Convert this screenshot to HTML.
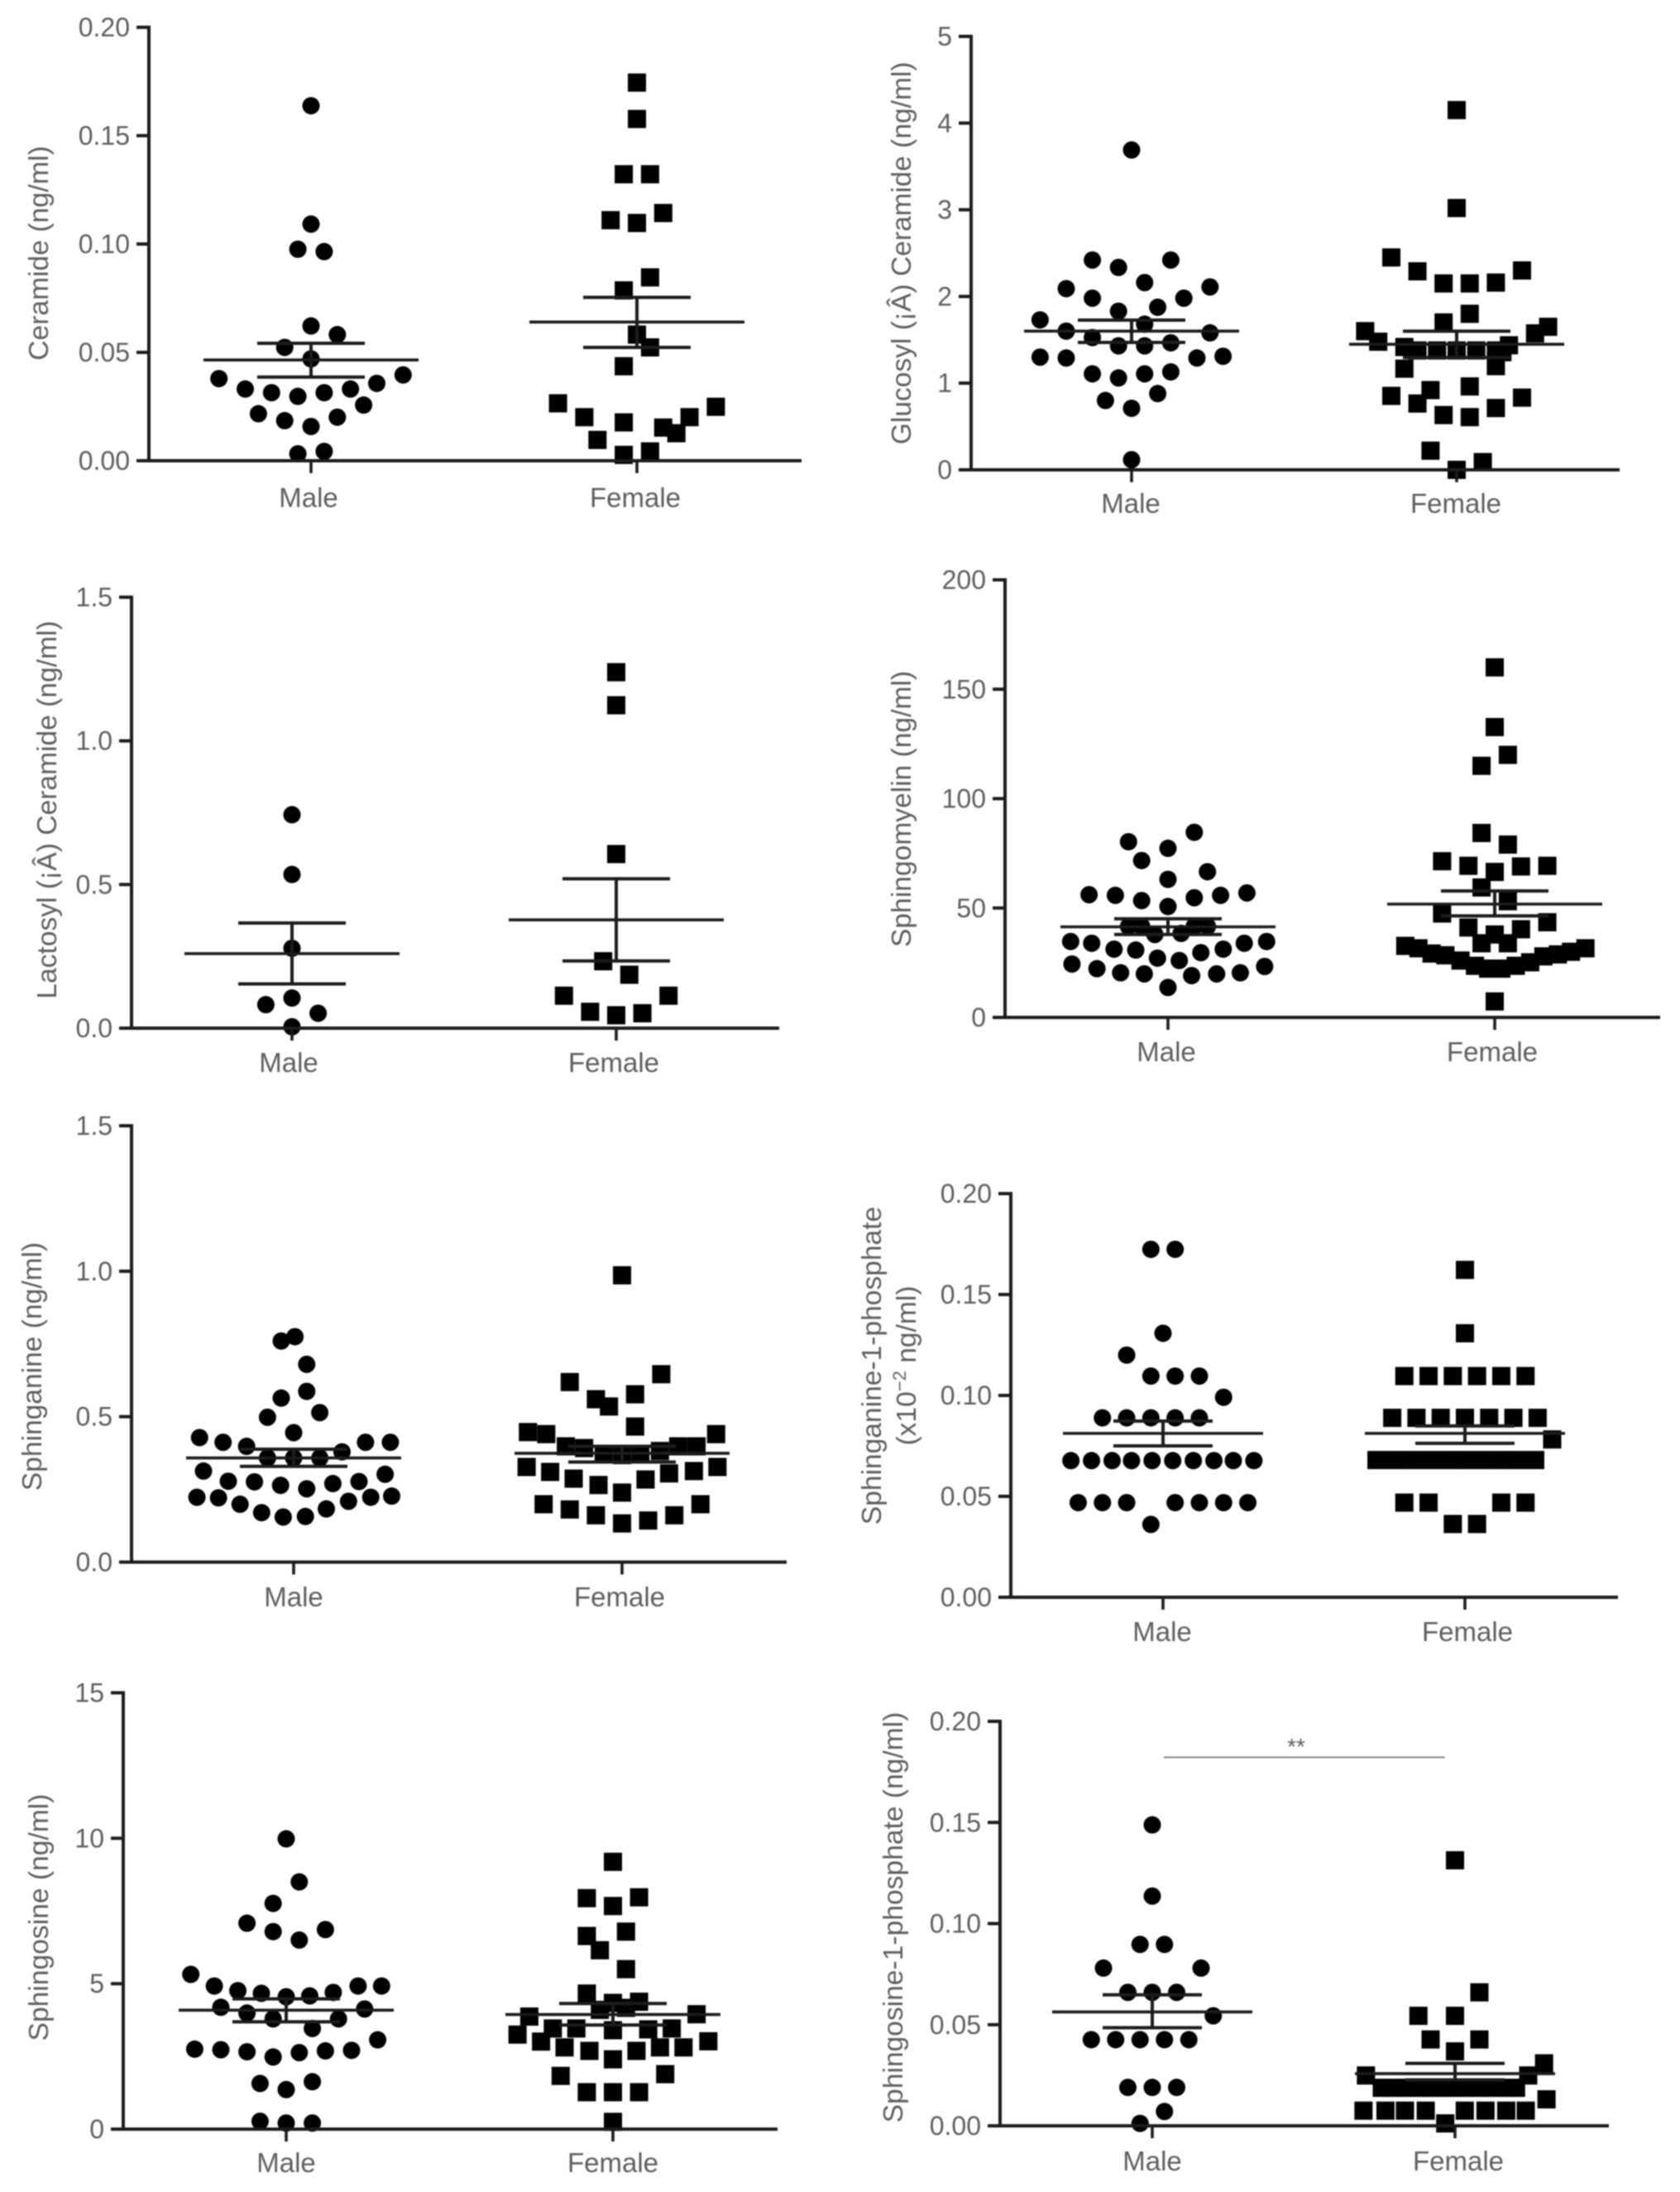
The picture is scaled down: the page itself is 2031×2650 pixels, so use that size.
<!DOCTYPE html>
<html lang="en">
<head>
<meta charset="utf-8">
<title>Sphingolipid levels by sex</title>
<style>
html,body{margin:0;padding:0;background:#fff;}
svg{display:block;filter:blur(0.7px);}
text{font-family:"Liberation Sans",sans-serif;fill:#5e5e5e;}
</style>
</head>
<body>
<svg id="figure" xmlns="http://www.w3.org/2000/svg" width="2031" height="2650" viewBox="0 0 2031 2650"></svg>
<script>
/* ---------- Ceramide ---------- */
const ceramideTicks = [0, 0.05, 0.10, 0.15, 0.20];
const ceramideMale = [.1638,.1092,.0976,.0965,.0622,.0582,.0523,.0470,.0396,.0379,.0357,.0331,.0331,.0314,.0314,.0297,.0257,.0217,.0201,.0185,.0158,.0032,.0043];
const ceramideMaleSlots = [0,0,-1,1,0,2,-2,0,7,-7,5,-5,3,-3,1,-1,4,-4,2,-2,0,-1,1];
const ceramideMaleStats = [.0465,.0542,.0386];
const ceramideFemale = [.1745,.1577,.1322,.1322,.1143,.1110,.1097,.0846,.0786,.0582,.0523,.0436,.0265,.0249,.0201,.0201,.0177,.0153,.0127,.0096,.0043,.0027];
const ceramideFemaleSlots = [0,0,-1,1,2,-2,0,1,-1,0,1,-1,-6,6,-4,4,-1,2,3,-3,1,-1];
const ceramideFemaleStats = [.0640,.0754,.0523];

/* ---------- Glucosyl ceramide ---------- */
const glucosylTicks = [0, 1, 2, 3, 4, 5];
const glucosylMale = [3.69,2.42,2.42,2.335,2.16,2.09,2.11,1.98,1.98,1.876,1.83,1.73,1.68,1.60,1.58,1.526,1.465,1.43,1.43,1.30,1.29,1.29,1.31,1.107,1.13,1.107,1.06,.88,.80,.71,.117];
const glucosylMaleSlots = [0,-3,3,-1,1,-5,6,-3,4,2,-1,-7,1,-5,6,-3,3,-1,1,-7,-5,5,7,-3,3,1,-1,2,-2,0,0];
const glucosylMaleStats = [1.60,1.727,1.47];
const glucosylFemale = [4.15,3.02,2.45,2.29,2.30,2.15,2.15,2.16,1.80,1.70,1.65,1.60,1.574,1.478,1.437,1.417,1.377,1.377,1.377,1.377,1.377,1.357,1.167,1.196,.962,.92,.853,.833,.765,.713,.632,.608,.221,.089,0];
const glucosylFemaleSlots = [0,0,-5,-3,5,-1,1,3,1,-1,7,-7,6,-6,4,-4,-3,-1.5,0,1.5,3,3.5,-4,3,1,-2,-5,5,-3,3,-1,1,-2,2,0];
const glucosylFemaleStats = [1.449,1.60,1.296];

/* ---------- Lactosyl ceramide ---------- */
const lactosylTicks = [0, 0.5, 1.0, 1.5];
const lactosylMale = [.743,.535,.278,.105,.082,.052,.005];
const lactosylMaleSlots = [0,0,0,0,-2,2,0];
const lactosylMaleStats = [.2595,.366,.154];
const lactosylFemale = [1.239,1.124,.606,.233,.186,.113,.113,.057,.052,.045];
const lactosylFemaleSlots = [0,0,0,-1,1,-4,4,-2,2,0];
const lactosylFemaleStats = [.377,.520,.234];

/* ---------- Sphingomyelin ---------- */
const myelinTicks = [0, 50, 100, 150, 200];
const myelinMale = [84.6,80.3,77.3,71.7,66.6,63.1,56.1,55.8,56.9,55.8,54.7,53.4,50.7,41.6,41.6,41.6,41.6,37.9,38.4,34.7,34.7,33.9,33.9,31.2,31.2,30.8,29.6,27.1,26.0,24.4,23.3,22.3,20.4,19.9,19.1,19.9,20.4,13.7];
const myelinMaleSlots = [2,-3,0,-2,3,0,-6,-4,6,4,2,-2,0,-3,3,-2,2,-1,1,-7.4,7.5,-5.8,5.8,-4.1,4.2,-2.45,2.5,-.8,.86,-7.3,7.35,-5.4,-3.6,-1.8,1.8,3.7,5.5,0];
const myelinMaleStats = [41.4,45.1,37.9];
const myelinFemale = [160,132.7,120,115,84.3,79,71.4,69.3,69.3,69,66.5,59.4,53.1,47.5,43.5,41.1,40.3,37.9,33.9,33.9,32.7,31.6,29.2,28.4,26,23.6,22.3,22.3,23.6,25.2,27.9,28.8,30,31.6,7.3];
const myelinFemaleSlots = [0,0,1,-1,-1,1,-4,4,-2,2,0,-1,1,-4,4,-2,2,0,-1,1,-6.8,-5.8,-4.8,-3.75,-2.6,-1.5,-.5,.5,1.6,2.7,3.7,4.8,5.8,6.9,0];
const myelinFemaleStats = [51.8,57.8,46.4];

/* ---------- Sphinganine ---------- */
const sphinganineTicks = [0, 0.5, 1.0, 1.5];
const sphinganineMale = [.775,.76,.68,.587,.564,.514,.498,.445,.428,.412,.412,.412,.398,.379,.358,.358,.358,.313,.302,.278,.277,.276,.27,.264,.252,.223,.227,.221,.223,.199,.209,.17,.183,.155,.157];
const sphinganineMaleSlots = [.1,-.95,1,1,-.95,2,-2,0,-7.2,-5.4,5.5,7.4,-3.6,3.7,-2,0,2,-6.9,7,-5,5,-3,3,-1,1,-7.4,7.5,-5.75,5.9,-4.1,4.2,-2.45,2.5,-.8,.9];
const sphinganineMaleStats = [.358,.388,.329];
const sphinganineFemale = [.986,.646,.619,.577,.56,.535,.466,.447,.44,.44,.398,.392,.398,.398,.382,.37,.37,.368,.327,.327,.31,.313,.305,.287,.284,.265,.239,.199,.199,.181,.161,.161,.143,.133];
const sphinganineFemaleSlots = [0,3,-4,1,-2,-1,1,-7.2,-5.8,7.2,-4.3,-2.9,5.7,4.3,2.9,1.4,-1.4,0,-7.3,7.3,-5.5,5.5,3.6,-3.7,1.8,-1.8,0,-6,6,-4,-2,4,2,0];
const sphinganineFemaleStats = [.374,.398,.344];

/* ---------- Sphinganine-1-phosphate ---------- */
const sa1pTicks = [0, 0.05, 0.10, 0.15, 0.20];
const sa1pMale = [.1724,.1724,.1308,.12,.1096,.1096,.1096,.0991,.0889,.0889,.0889,.0889,.0889,.0677,.0677,.0677,.0677,.0677,.0677,.0677,.0677,.0677,.0677,.0469,.0469,.0469,.0469,.0469,.0469,.0469,.0361];
const sa1pMaleSlots = [-1,1,0,-3,-1,1,3,5,-5,-3,-1,1,3,-7.6,-5.9,-4.2,-2.6,-.9,.8,2.5,4.2,5.8,7.5,-7,-5,-3,1,3,5,7,-1];
const sa1pMaleStats = [.0812,.0873,.075];
const sa1pFemale = [.1622,.1308,.1096,.1096,.1096,.1096,.1096,.1096,.0889,.0889,.0889,.0889,.0889,.0889,.0889,.0782,.068,.068,.068,.068,.068,.068,.068,.068,.068,.068,.0469,.0469,.0469,.0469,.0363,.0363];
const sa1pFemaleSlots = [0,0,-5,-3,-1,1,3,5,-6,-4,-2,0,2,4,6,7.2,-7.3,-5.8,-4.4,-2.9,-1.4,0,1.5,2.9,4.3,5.8,-5,-3,3,5,-1,1];
const sa1pFemaleStats = [.0812,.0849,.0763];

/* ---------- Sphingosine ---------- */
const sphingosineTicks = [0, 5, 10, 15];
const sphingosineMale = [9.98,8.5,7.76,7.08,6.86,6.79,6.5,5.32,4.92,4.92,4.92,4.76,4.7,4.67,4.58,4.55,4.19,4.13,3.99,3.79,3.79,3.46,3.07,2.75,2.73,2.66,2.63,2.69,2.71,2.48,1.63,1.57,1.36,.27,.21,.21];
const sphingosineMaleSlots = [0,1,-1,-3,3,-1,1,-7.3,7.3,-5.5,5.5,-3.7,3.6,-1.9,1.8,0,-5,6,-3,4,-1,2,7,-7,-5,-3,1,3,5,-1,2,-2,0,-2,0,2];
const sphingosineMaleStats = [4.09,4.48,3.69];
const sphingosineFemale = [9.19,7.94,7.97,7.67,6.64,6.79,6.15,5.5,4.66,4.38,4.34,4.1,4.17,3.87,3.95,3.46,3.46,3.4,3.43,3.46,3.25,3.01,3.02,2.81,2.81,2.81,2.69,2.69,2.4,1.83,1.89,1.27,1.27,1.27,.25];
const sphingosineFemaleSlots = [0,-2,2,0,-2,1,-1,1,-2,2,0,-1,1,-6.4,6.4,-4.6,-2.8,0,2.7,4.5,-7.3,-5.5,7.3,-3.7,3.6,5.4,-1.8,1.8,0,-4,4,-2,0,2,0];
const sphingosineFemaleStats = [3.94,4.32,3.58];

/* ---------- Sphingosine-1-phosphate ---------- */
const so1pTicks = [0, 0.05, 0.10, 0.15, 0.20];
const so1pMale = [.1488,.1136,.0897,.0897,.078,.078,.066,.066,.066,.0544,.0426,.0426,.0426,.0426,.0426,.019,.019,.019,.0071,.0012];
const so1pMaleSlots = [0,0,-1,1,-4,4,-2,0,2,5,-5,-3,-1,1,3,-2,0,2,1,-1];
const so1pMaleStats = [.0563,.0648,.0485];
const so1pFemale = [.1313,.066,.0544,.0544,.0427,.0427,.0368,.0309,.0249,.0249,.0188,.0188,.0188,.0188,.0188,.0188,.0188,.0188,.0188,.0188,.0188,.0188,.0131,.0075,.0075,.0075,.0075,.0075,.0075,.0075,.0075,.0012];
const so1pFemaleSlots = [0,2,-3,0,-2,2,0,7.3,-7.3,6,-6,-5,-4,-3,-2,-1,0,1,2,3,4,5,7.5,-7.5,-5.7,-4.1,-2.4,.8,2.5,4.2,5.8,-.8];
const so1pFemaleStats = [.0258,.0309,.0227];

const categories = ['Male', 'Female'];

const svg = document.getElementById('figure');
const NS = 'http://www.w3.org/2000/svg';
const INK = '#1c1c1c';

function mk(tag, attrs, parent) {
  const el = document.createElementNS(NS, tag);
  for (const k in attrs) el.setAttribute(k, attrs[k]);
  parent.appendChild(el);
  return el;
}

function drawPoints(g, values, slots, cx, slotWidth, y, shape) {
  values.forEach((v, i) => {
    const px = cx + slots[i] * slotWidth;
    const py = y(v);
    let m;
    if (shape === 'circle') {
      m = mk('circle', {cx: px, cy: py, r: 10.5, fill: '#000'}, g);
      
      
    } else {
      m = mk('rect', {x: px - 11, y: py - 11, width: 22, height: 22, fill: '#000'}, g);
      
      
    }
  });
}

function drawStats(g, stats, cx, meanHalf, capHalf, y) {
  const mean = mk('line', {x1: cx - meanHalf, x2: cx + meanHalf, y1: y(stats[0]), y2: y(stats[0]), stroke: INK, 'stroke-width': 3.6}, g);
  
  
  const stem = mk('line', {x1: cx, x2: cx, y1: y(stats[1]), y2: y(stats[2]), stroke: INK, 'stroke-width': 4}, g);
  
  
  [stats[1], stats[2]].forEach(v => {
    const cap = mk('line', {x1: cx - capHalf, x2: cx + capHalf, y1: y(v), y2: y(v), stroke: INK, 'stroke-width': 4}, g);
    
    
  });
}

function drawPanel(p) {
  const g = mk('g', {}, svg);
  
  
  const maxV = p.ticks[p.ticks.length - 1];
  const y = v => p.bottom - (v / maxV) * (p.bottom - p.top);

  drawPoints(g, p.male, p.maleSlots, p.maleX, p.slot, y, 'circle');
  drawPoints(g, p.female, p.femaleSlots, p.femaleX, p.slot, y, 'square');
  drawStats(g, p.maleStats, p.maleX, p.meanHalf, p.capHalf, y);
  drawStats(g, p.femaleStats, p.femaleX, p.meanHalf, p.capHalf, y);

  const yAxis = mk('line', {x1: p.axisX, x2: p.axisX, y1: p.top - 2, y2: p.bottom + 2, stroke: INK, 'stroke-width': 4}, g);
  
  
  const xAxis = mk('line', {x1: p.axisX - 15, x2: p.axisEnd, y1: p.bottom, y2: p.bottom, stroke: INK, 'stroke-width': 4}, g);
  
  

  p.ticks.forEach(t => {
    const tick = mk('line', {x1: p.axisX - 15, x2: p.axisX, y1: y(t), y2: y(t), stroke: INK, 'stroke-width': 4}, g);
    
    
    const lab = mk('text', {x: p.axisX - 23, y: y(t) + 11, 'text-anchor': 'end', 'font-size': 32}, g);
    lab.textContent = t.toFixed(p.decimals);
    
    
  });

  [p.maleX, p.femaleX].forEach((cx, i) => {
    const tick = mk('line', {x1: cx, x2: cx, y1: p.bottom, y2: p.bottom + 15, stroke: INK, 'stroke-width': 3.6}, g);
    
    
    const lab = mk('text', {x: cx + (i === 0 ? p.maleShift : p.femaleShift), y: p.labelY, 'text-anchor': 'middle', 'font-size': 33}, g);
    lab.textContent = categories[i];
    
    
  });

  p.titleLines.forEach(line => {
    const title = mk('text', {x: 0, y: 0, 'text-anchor': 'middle', 'font-size': 33.6, transform: 'translate(' + line.x + ' ' + p.titleY + ') rotate(-90)'}, g);
    
    
    if (line.sup) {
      title.appendChild(document.createTextNode(line.text));
      const s = mk('tspan', {dy: -12, 'font-size': 22}, title);
      s.textContent = line.sup;
      const r = mk('tspan', {dy: 12}, title);
      r.textContent = line.rest;
    } else {
      title.textContent = line.text;
    }
  });
  return g;
}

drawPanel({name:'ceramide-panel', ticks:ceramideTicks, decimals:2, male:ceramideMale, maleSlots:ceramideMaleSlots, maleStats:ceramideMaleStats, female:ceramideFemale, femaleSlots:ceramideFemaleSlots, femaleStats:ceramideFemaleStats,
  axisX:180, axisEnd:969, top:33, bottom:557, maleX:376, femaleX:770, maleShift:-3, femaleShift:-2, labelY:613, slot:15.9, meanHalf:130, capHalf:65, titleY:306, titleLines:[{x:58, text:'Ceramide (ng/ml)'}]});

drawPanel({name:'glucosyl-ceramide-panel', ticks:glucosylTicks, decimals:0, male:glucosylMale, maleSlots:glucosylMaleSlots, maleStats:glucosylMaleStats, female:glucosylFemale, femaleSlots:glucosylFemaleSlots, femaleStats:glucosylFemaleStats,
  axisX:1174, axisEnd:1958, top:44, bottom:568, maleX:1368, femaleX:1761, maleShift:-1, femaleShift:-1, labelY:620, slot:15.8, meanHalf:130, capHalf:65, titleY:306, titleLines:[{x:1101, text:'Glucosyl (¡Â) Ceramide (ng/ml)'}]});

drawPanel({name:'lactosyl-ceramide-panel', ticks:lactosylTicks, decimals:1, male:lactosylMale, maleSlots:lactosylMaleSlots, maleStats:lactosylMaleStats, female:lactosylFemale, femaleSlots:lactosylFemaleSlots, femaleStats:lactosylFemaleStats,
  axisX:159, axisEnd:942, top:722, bottom:1243, maleX:353, femaleX:745, maleShift:-4, femaleShift:-3, labelY:1296, slot:15.8, meanHalf:130, capHalf:65, titleY:979, titleLines:[{x:68, text:'Lactosyl (¡Â) Ceramide (ng/ml)'}]});

drawPanel({name:'sphingomyelin-panel', ticks:myelinTicks, decimals:0, male:myelinMale, maleSlots:myelinMaleSlots, maleStats:myelinMaleStats, female:myelinFemale, femaleSlots:myelinFemaleSlots, femaleStats:myelinFemaleStats,
  axisX:1215, axisEnd:2007, top:701, bottom:1230, maleX:1412, femaleX:1807, maleShift:-2, femaleShift:-3, labelY:1283, slot:15.9, meanHalf:130, capHalf:65, titleY:978, titleLines:[{x:1101, text:'Sphingomyelin (ng/ml)'}]});

drawPanel({name:'sphinganine-panel', ticks:sphinganineTicks, decimals:1, male:sphinganineMale, maleSlots:sphinganineMaleSlots, maleStats:sphinganineMaleStats, female:sphinganineFemale, femaleSlots:sphinganineFemaleSlots, femaleStats:sphinganineFemaleStats,
  axisX:159, axisEnd:951, top:1361, bottom:1888.5, maleX:355, femaleX:752, maleShift:0, femaleShift:-3, labelY:1942, slot:15.8, meanHalf:130, capHalf:65, titleY:1652, titleLines:[{x:50, text:'Sphinganine (ng/ml)'}]});

drawPanel({name:'sphinganine-1-phosphate-panel', ticks:sa1pTicks, decimals:2, male:sa1pMale, maleSlots:sa1pMaleSlots, maleStats:sa1pMaleStats, female:sa1pFemale, femaleSlots:sa1pFemaleSlots, femaleStats:sa1pFemaleStats,
  axisX:1222, axisEnd:1956, top:1443, bottom:1931, maleX:1406, femaleX:1771, maleShift:-1, femaleShift:3, labelY:1984, slot:14.65, meanHalf:121, capHalf:60, titleY:1651, titleLines:[{x:1065, text:'Sphinganine-1-phosphate'}, {x:1107, text:'(x10', sup:'−2', rest:' ng/ml)'}]});

drawPanel({name:'sphingosine-panel', ticks:sphingosineTicks, decimals:0, male:sphingosineMale, maleSlots:sphingosineMaleSlots, maleStats:sphingosineMaleStats, female:sphingosineFemale, femaleSlots:sphingosineFemaleSlots, femaleStats:sphingosineFemaleStats,
  axisX:149, axisEnd:940, top:2046.5, bottom:2574, maleX:346, femaleX:741, maleShift:0, femaleShift:0, labelY:2626, slot:15.8, meanHalf:130, capHalf:65, titleY:2318, titleLines:[{x:58, text:'Sphingosine (ng/ml)'}]});

const so1pGroup = drawPanel({name:'sphingosine-1-phosphate-panel', ticks:so1pTicks, decimals:2, male:so1pMale, maleSlots:so1pMaleSlots, maleStats:so1pMaleStats, female:so1pFemale, femaleSlots:so1pFemaleSlots, femaleStats:so1pFemaleStats,
  axisX:1209, axisEnd:1945, top:2081, bottom:2570, maleX:1393, femaleX:1759, maleShift:0, femaleShift:4, labelY:2624, slot:14.75, meanHalf:121, capHalf:60, titleY:2318, titleLines:[{x:1091, text:'Sphingosine-1-phosphate (ng/ml)'}]});

const sigLine = mk('line', {x1: 1407, x2: 1747, y1: 2124.5, y2: 2124.5, stroke: '#888', 'stroke-width': 2}, so1pGroup);


const sigText = mk('text', {x: 1567, y: 2121, 'text-anchor': 'middle', 'font-size': 28}, so1pGroup);
sigText.textContent = '**';


</script>
</body>
</html>
